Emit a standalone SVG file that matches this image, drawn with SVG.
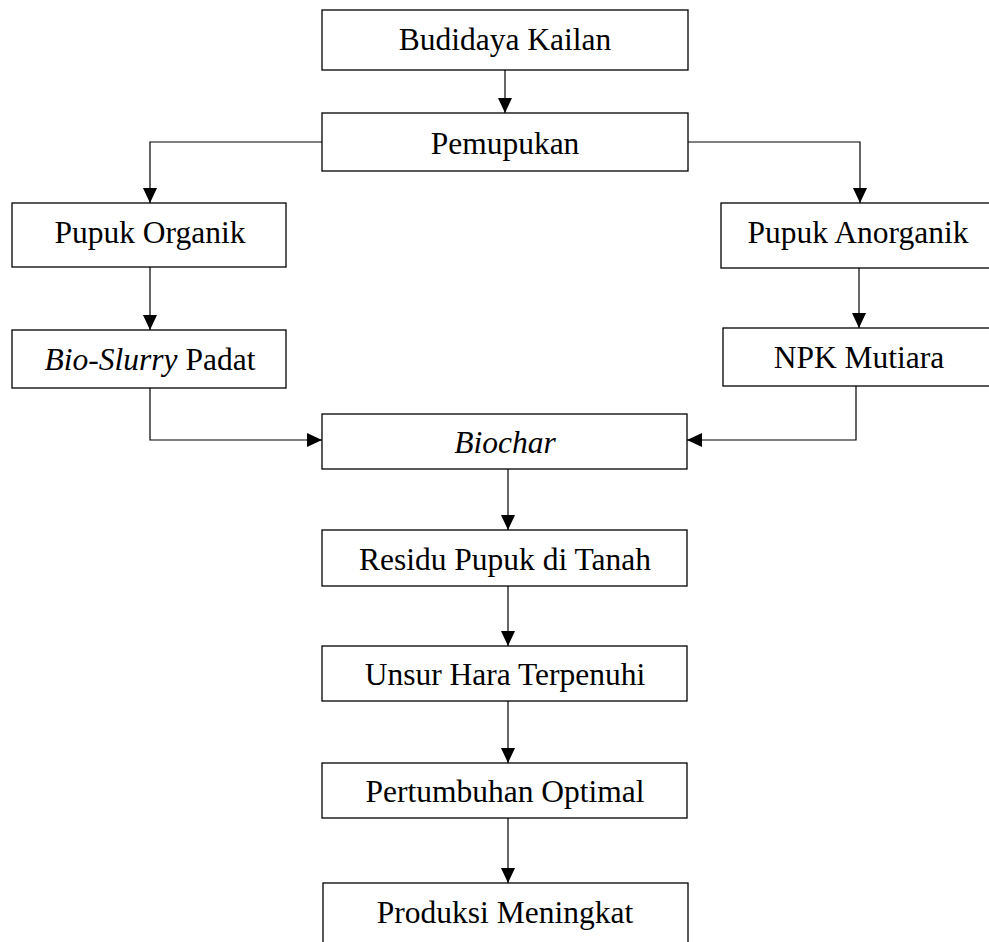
<svg xmlns="http://www.w3.org/2000/svg" width="989" height="942" viewBox="0 0 989 942">
<style>
.box{fill:#fff;stroke:#000;stroke-width:1.3}
.t{font-family:"Liberation Serif","Times New Roman",serif;font-size:31.5px;fill:#000;text-anchor:middle}
.i{font-style:italic}
.c{fill:none;stroke:#000;stroke-width:1.2}
</style>
<defs>
<marker id="ah" viewBox="0 0 15 14" refX="15" refY="7" markerWidth="15" markerHeight="14" markerUnits="userSpaceOnUse" orient="auto">
<path d="M0,0 L15,7 L0,14 z" fill="#000"/>
</marker>
</defs>
<rect width="989" height="942" fill="#fff"/>
<g id="connectors">
<path class="c" d="M505,70 V113" marker-end="url(#ah)"/>
<path class="c" d="M322,142 H150 V203" marker-end="url(#ah)"/>
<path class="c" d="M688,142 H860 V203" marker-end="url(#ah)"/>
<path class="c" d="M150,267 V330" marker-end="url(#ah)"/>
<path class="c" d="M859,268 V328" marker-end="url(#ah)"/>
<path class="c" d="M150,388 V440 H322" marker-end="url(#ah)"/>
<path class="c" d="M856,386 V440 H687" marker-end="url(#ah)"/>
<path class="c" d="M508,469 V530" marker-end="url(#ah)"/>
<path class="c" d="M508,584 V646" marker-end="url(#ah)"/>
<path class="c" d="M508,699 V763" marker-end="url(#ah)"/>
<path class="c" d="M508,818 V883" marker-end="url(#ah)"/>
</g>
<g id="budidaya"><rect class="box" x="322" y="10" width="366" height="60"/><text class="t" x="505" y="50">Budidaya Kailan</text></g>
<g id="pemupukan"><rect class="box" x="322" y="113" width="366" height="58"/><text class="t" x="505" y="154">Pemupukan</text></g>
<g id="organik"><rect class="box" x="12" y="203" width="274" height="64"/><text class="t" x="150" y="243">Pupuk Organik</text></g>
<g id="bioslurry"><rect class="box" x="12" y="330" width="274" height="58"/><text class="t" x="150" y="370"><tspan class="i">Bio-Slurry</tspan> Padat</text></g>
<g id="anorganik"><rect class="box" x="721" y="203" width="270" height="65"/><text class="t" x="858" y="243">Pupuk Anorganik</text></g>
<g id="npk"><rect class="box" x="723" y="328" width="268" height="58"/><text class="t" x="859" y="368">NPK Mutiara</text></g>
<g id="biochar"><rect class="box" x="322" y="414" width="365" height="55"/><text class="t i" x="505" y="453">Biochar</text></g>
<g id="residu"><rect class="box" x="322" y="530" width="365" height="56"/><text class="t" x="505" y="570">Residu Pupuk di Tanah</text></g>
<g id="unsur"><rect class="box" x="322" y="646" width="365" height="55"/><text class="t" x="505" y="685">Unsur Hara Terpenuhi</text></g>
<g id="pertumbuhan"><rect class="box" x="322" y="763" width="365" height="55"/><text class="t" x="505" y="802">Pertumbuhan Optimal</text></g>
<g id="produksi"><rect class="box" x="323" y="883" width="365" height="70"/><text class="t" x="505" y="923">Produksi Meningkat</text></g>
</svg>
